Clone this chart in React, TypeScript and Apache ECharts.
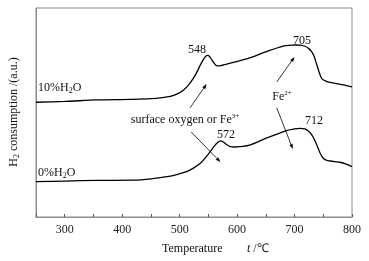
import React, { useEffect, useRef } from 'react';
import * as echarts from 'echarts';

// Temperature (°C) and relative H2 consumption (a.u.) for each curve
const temps10 = [250, 300, 356, 414, 450, 470, 484, 495, 507, 516, 524, 530, 536, 541, 545, 549, 552, 556, 560, 565, 572, 582, 599, 622, 651, 680, 695, 704, 712, 718, 724, 730, 734, 738, 742, 747, 752, 758, 768, 778, 790, 800];
const values10 = [54.9, 55.3, 56.0, 56.3, 56.6, 57.1, 57.7, 58.8, 60.8, 63.3, 66.4, 69.3, 72.7, 75.2, 76.8, 77.3, 76.8, 75.2, 73.6, 72.3, 72.4, 73.2, 74.3, 76.1, 79.1, 81.8, 82.2, 82.3, 82.1, 81.7, 80.8, 79.0, 76.9, 73.5, 70.0, 66.4, 65.3, 64.7, 64.1, 63.6, 62.9, 62.3];

const temps0 = [250, 300, 356, 420, 450, 478, 495, 512, 524, 536, 545, 553, 560, 566, 571, 576, 582, 588, 597, 605, 622, 651, 686, 700, 710, 718, 724, 728, 732, 737, 741, 745, 750, 756, 762, 770, 779, 790, 800];
const values0 = [16.9, 17.2, 17.5, 17.6, 18.2, 19.3, 20.3, 21.7, 23.4, 25.7, 28.4, 31.2, 33.8, 35.6, 36.4, 35.9, 34.6, 33.7, 33.5, 33.7, 34.4, 37.7, 41.3, 42.2, 42.4, 42.2, 41.2, 40.0, 38.4, 35.6, 32.9, 30.3, 28.1, 27.1, 26.8, 26.5, 26.2, 25.3, 24.1];

// Arrows: [tailT, tailV, headT, headV]
const arrows = [
  [518, 52.2, 547, 63.6],
  [520, 40.7, 571, 26.3],
  [669, 64.6, 700, 76.6],
  [669, 52.2, 697, 32.5],
];

const xTickLabels = [300, 400, 500, 600, 700, 800];

const FONT = '"Liberation Serif", "Times New Roman", serif';

export default function App() {
  const ref = useRef<HTMLDivElement>(null);
  useEffect(() => {
    document.body.style.margin = '0';
    const chart = echarts.init(ref.current!, null, { renderer: 'svg' });
    const txt = (x: number, y: number, text: string, align = 'center', rich: any = undefined, extra: any = {}) => ({
      type: 'text',
      x,
      y,
      silent: true,
      style: {
        text,
        fill: '#111',
        fontFamily: FONT,
        fontSize: 12,
        align,
        verticalAlign: 'middle',
        rich,
      },
      ...extra,
    });
    const subRich = {
      n: { fontFamily: FONT, fontSize: 12, lineHeight: 14, fill: '#111', verticalAlign: 'middle' },
      s: { fontFamily: FONT, fontSize: 8, lineHeight: 8, fill: '#111', verticalAlign: 'bottom' },
      p: { fontFamily: FONT, fontSize: 7, lineHeight: 8, fill: '#111', verticalAlign: 'top' },
      i: { fontFamily: FONT, fontSize: 12, lineHeight: 14, fill: '#111', fontStyle: 'italic', verticalAlign: 'middle' },
    };
    const texts = [
      txt(13, 112, '{n|H}{s|2}{n| consumption /(a.u.)}', 'center', subRich, { rotation: Math.PI / 2 }),
      txt(162, 248, 'Temperature', 'left'),
      txt(247, 248, '{i|t}{n| /℃}', 'left', subRich),
      txt(38, 87, '{n|10%H}{s|2}{n|O}', 'left', subRich),
      txt(38, 172, '{n|0%H}{s|2}{n|O}', 'left', subRich),
      txt(197, 49, '548'),
      txt(302, 40, '705'),
      txt(226, 134, '572'),
      txt(314, 120, '712'),
      txt(185, 119, '{n|surface oxygen or Fe}{p|3+}', 'center', subRich),
      txt(282, 96, '{n|Fe}{p|2+}', 'center', subRich),
    ];
    chart.setOption({
      animation: false,
      grid: { left: 36, right: 17, top: 8, bottom: 44, show: true, borderColor: '#8c8c8c', borderWidth: 1, backgroundColor: 'transparent' },
      xAxis: {
        type: 'value',
        min: 250,
        max: 800,
        interval: 50,
        axisLine: { show: true, lineStyle: { color: '#8c8c8c', width: 1 } },
        axisTick: { show: true, inside: true, length: 3, lineStyle: { color: '#555' } },
        splitLine: { show: false },
        axisLabel: {
          margin: 6,
          color: '#222',
          fontFamily: FONT,
          fontSize: 12,
          formatter: (v: number) => (xTickLabels.includes(v) ? String(v) : ''),
        },
      },
      yAxis: {
        type: 'value',
        min: 0,
        max: 100,
        axisLine: { show: true, lineStyle: { color: '#8c8c8c' } },
        axisTick: { show: false },
        axisLabel: { show: false },
        splitLine: { show: false },
      },
      series: [
        {
          type: 'line',
          name: '10%H2O',
          data: temps10.map((t, i) => [t, values10[i]]),
          showSymbol: false,
          smooth: 0.3,
          lineStyle: { color: '#000', width: 1.3 },
          silent: true,
        },
        {
          type: 'line',
          name: '0%H2O',
          data: temps0.map((t, i) => [t, values0[i]]),
          showSymbol: false,
          smooth: 0.3,
          lineStyle: { color: '#000', width: 1.3 },
          silent: true,
        },
      ],
      graphic: texts,
    });
    // arrows drawn via the axes' own scale
    const arrowEls: any[] = [];
    arrows.forEach((a) => {
      const p0 = chart.convertToPixel({ gridIndex: 0 }, [a[0], a[1]]) as number[];
      const p1 = chart.convertToPixel({ gridIndex: 0 }, [a[2], a[3]]) as number[];
      const dx = p1[0] - p0[0];
      const dy = p1[1] - p0[1];
      const len = Math.sqrt(dx * dx + dy * dy);
      const ux = dx / len;
      const uy = dy / len;
      const hl = 5;
      const hw = 1.8;
      const bx = p1[0] - ux * hl;
      const by = p1[1] - uy * hl;
      arrowEls.push({
        type: 'line',
        silent: true,
        shape: { x1: p0[0], y1: p0[1], x2: bx, y2: by },
        style: { stroke: '#000', lineWidth: 0.8 },
      });
      arrowEls.push({
        type: 'polygon',
        silent: true,
        shape: {
          points: [
            [p1[0], p1[1]],
            [bx - uy * hw, by + ux * hw],
            [bx + uy * hw, by - ux * hw],
          ],
        },
        style: { fill: '#000' },
      });
    });
    chart.setOption({ graphic: [...texts, ...arrowEls] });
    return () => chart.dispose();
  }, []);
  return <div ref={ref} style={{ position: 'fixed', left: 0, top: 0, width: 369, height: 261 }} />;
}
